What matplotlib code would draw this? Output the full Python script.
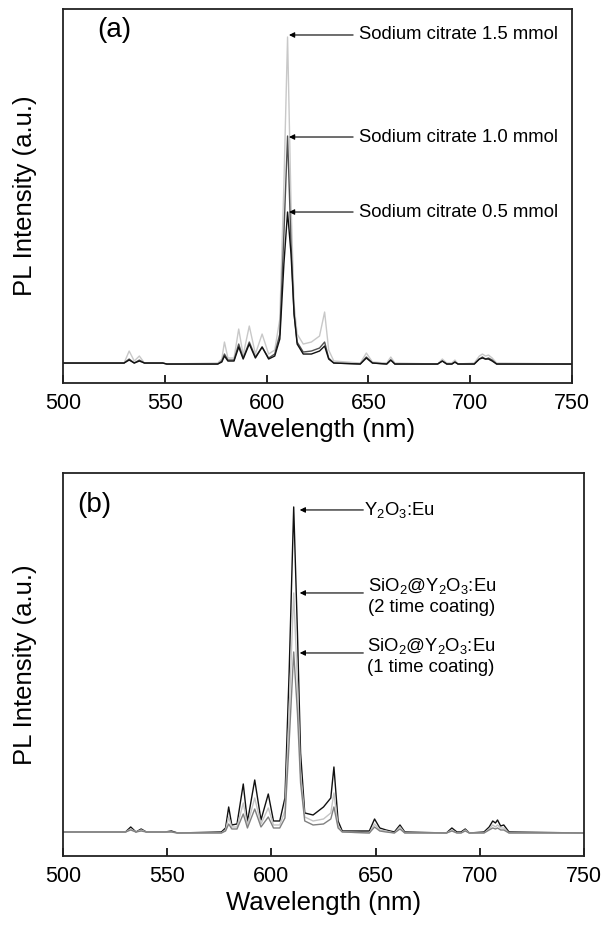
import matplotlib
matplotlib.use("Agg")
import matplotlib.pyplot as plt

plt.rcParams['font.family'] = ['Liberation Sans', 'DejaVu Sans']
plt.rcParams['mathtext.fontset'] = 'custom'
plt.rcParams['mathtext.rm'] = 'Liberation Sans'
plt.rcParams['mathtext.it'] = 'Liberation Sans:italic'
plt.rcParams['mathtext.default'] = 'regular'

# ---- panel (a): sodium citrate series (intensity in arbitrary units) ----
wl_a = [500, 530, 532.5, 535, 537.5, 540, 549, 551, 576, 578, 579.3, 581,
        584, 586.3, 588.5, 591.5, 594.5, 597.8, 601, 604, 606.5, 608.5,
        610.3, 612, 613.5, 615, 618, 622, 626, 628.5, 630.5, 633, 646, 649,
        652, 659, 661, 663, 684, 686.3, 688.5, 691, 692.5, 694, 702, 704.5,
        706, 707.5, 709, 710.8, 713, 750]
cit_15 = [1, 1, 13, 3, 8, 1, 1, 0, 1, 5, 22, 6,
          6, 35, 9, 38, 10, 30, 10, 14, 45, 180,
          327, 160, 60, 30, 20, 22, 28, 52, 14, 3, 1, 11,
          2, 1, 7, 1, 0, 5, 1, 1, 4, 0, 1, 8,
          10, 8, 9, 6, 1, 0]
cit_10 = [1, 1, 5, 1, 4, 1, 1, 0, 0, 3, 10, 4,
          4, 20, 6, 22, 7, 17, 6, 10, 30, 130,
          228, 120, 50, 22, 12, 13, 16, 22, 6, 1, 0, 7,
          1, 0, 4, 0, 0, 3, 0, 0, 2, 0, 0, 5,
          7, 5, 6, 4, 0, 0]
cit_05 = [1, 1, 4, 1, 3, 1, 1, 0, 0, 2, 8, 3,
          3, 17, 5, 20, 6, 17, 5, 8, 25, 100,
          152, 110, 50, 20, 10, 10, 13, 18, 5, 1, 0, 6,
          1, 0, 4, 0, 0, 3, 0, 0, 2, 0, 0, 5,
          6, 5, 5, 3, 0, 0]
labels_a = ['Sodium citrate 1.5 mmol', 'Sodium citrate 1.0 mmol',
            'Sodium citrate 0.5 mmol']

# ---- panel (b): coating series ----
wl_b = [500, 530, 532.5, 535, 537.5, 540, 549, 552, 555, 576, 578, 579.5,
        581, 583.5, 586.5, 588.5, 592, 595, 598.5, 601, 604, 606.5, 608.5,
        610.7, 612.5, 614, 616, 620, 625, 628.5, 630, 632, 634, 647, 649.5,
        652, 655, 659, 661.7, 664, 684, 686.6, 689, 691, 693, 695, 702,
        704.5, 706.2, 707.5, 708.5, 710, 711.5, 714, 750]
y2o3 = [1, 1, 6, 1, 4, 1, 1, 2, 0, 1, 5, 26,
        8, 9, 49, 11, 53, 13, 39, 12, 12, 35, 160,
        326, 200, 80, 20, 18, 26, 35, 66, 12, 2, 2, 14,
        5, 3, 1, 8, 1, 0, 5, 1, 1, 4, 0, 1,
        6, 12, 10, 13, 7, 8, 1, 0]
coat_2 = [1, 1, 4, 1, 3, 1, 1, 1, 0, 0, 3, 16,
          6, 6, 30, 8, 35, 9, 25, 8, 8, 22, 120,
          240, 150, 60, 16, 12, 14, 20, 40, 7, 1, 0, 9,
          3, 2, 0, 6, 0, 0, 3, 0, 0, 3, 0, 0,
          4, 8, 6, 8, 5, 5, 0, 0]
coat_1 = [1, 1, 3, 1, 2, 1, 1, 1, 0, 0, 2, 9,
          4, 4, 19, 5, 24, 6, 16, 5, 5, 15, 90,
          181, 120, 50, 12, 8, 9, 14, 26, 5, 1, 0, 6,
          2, 1, 0, 4, 0, 0, 2, 0, 0, 2, 0, 0,
          3, 5, 4, 5, 3, 3, 0, 0]
labels_b = [r'Y$_2$O$_3$:Eu',
            'SiO$_2$@Y$_2$O$_3$:Eu\n(2 time coating)',
            'SiO$_2$@Y$_2$O$_3$:Eu\n(1 time coating)']

xticks = [500, 550, 600, 650, 700, 750]

fig = plt.figure(figsize=(6.04, 9.27), dpi=100)
ax1 = fig.add_axes([0.1043, 0.5868, 0.8427, 0.4035])
ax2 = fig.add_axes([0.1043, 0.0766, 0.8626, 0.4132])

ax1.plot(wl_a, cit_15, color='#c8c8c8', lw=1.0)
ax1.plot(wl_a, cit_10, color='#505050', lw=1.0)
ax1.plot(wl_a, cit_05, color='#111111', lw=1.0)
ax1.set_ylim(-19, 355)

ax2.plot(wl_b, y2o3, color='#111111', lw=1.0)
ax2.plot(wl_b, coat_2, color='#c4c4c4', lw=1.0)
ax2.plot(wl_b, coat_1, color='#808080', lw=1.0)
ax2.set_ylim(-23, 360)

# arrows + labels
arrow_y_a = [329, 227, 152]
for yy, lab in zip(arrow_y_a, labels_a):
    ax1.annotate('', xy=(611, yy), xytext=(642.5, yy),
                 arrowprops=dict(arrowstyle='-|>', color='black', lw=0.8,
                                 mutation_scale=8, shrinkA=0, shrinkB=0))
    ax1.text(645.5, yy, lab, fontsize=13.3, va='center', ha='left')

arrow_y_b = [323, 240, 180]
text_dy_b = [0, -3, -3]
text_x_b = [644.3, 646.3, 645.7]
for yy, dy, tx, lab in zip(arrow_y_b, text_dy_b, text_x_b, labels_b):
    ax2.annotate('', xy=(613.6, yy), xytext=(644.1, yy),
                 arrowprops=dict(arrowstyle='-|>', color='black', lw=0.8,
                                 mutation_scale=8, shrinkA=0, shrinkB=0))
    ax2.text(tx, yy + dy, lab, fontsize=13.3, va='center', ha='left',
             linespacing=1.3)

ax1.text(0.067, 0.944, '(a)', transform=ax1.transAxes, fontsize=20,
         va='center', ha='left')
ax2.text(0.027, 0.916, '(b)', transform=ax2.transAxes, fontsize=20,
         va='center', ha='left')

for ax in (ax1, ax2):
    ax.set_xlim(500, 750)
    ax.set_xticks(xticks)
    ax.set_yticks([])
    ax.tick_params(axis='x', direction='in', length=5.5, width=1.2,
                   labelsize=15.5, pad=7)
    for s in ax.spines.values():
        s.set_linewidth(1.3)
        s.set_color('#222222')
    ax.set_xlabel('Wavelength (nm)', fontsize=18.5, labelpad=3)
    ax.set_ylabel('PL Intensity (a.u.)', fontsize=18.5, va='center')

ax1.yaxis.set_label_coords(-0.0747, 0.5)
ax2.yaxis.set_label_coords(-0.073, 0.5)

fig.savefig('out.png', dpi=100)
